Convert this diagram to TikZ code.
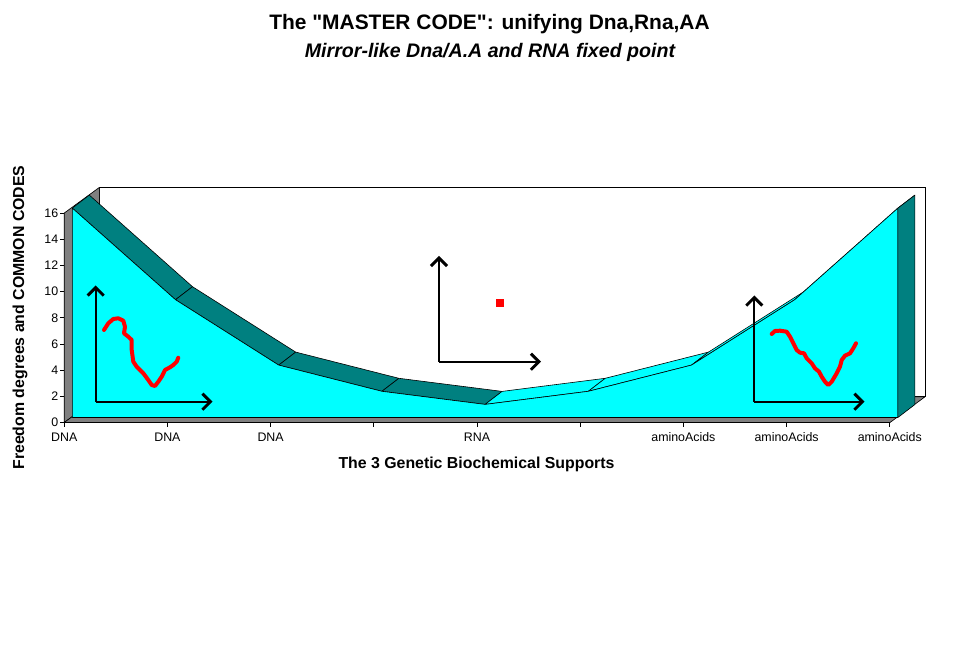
\documentclass[tikz,border=0pt]{standalone}
\usepackage{fontspec}
\setmainfont{Liberation Sans}
\newfontfamily\plainsans{Liberation Sans}
\usetikzlibrary{arrows.meta}
\definecolor{xlteal}{RGB}{0,128,128}
\definecolor{xlcyan}{RGB}{0,255,255}
\definecolor{xlgray}{RGB}{128,128,128}
\definecolor{xlred}{RGB}{255,0,0}
\begin{document}
\begin{tikzpicture}[x=0.75pt,y=-0.75pt,
  wallface/.style={fill=xlgray,draw=black,line width=0.5pt,line join=round},
  backwall/.style={fill=white,draw=black,line width=0.5pt},
  downface/.style={fill=xlteal,draw=black,line width=0.45pt,line join=round},
  upface/.style={fill=xlcyan,draw=black,line width=0.45pt,line join=round},
  frontface/.style={fill=xlcyan,draw=black,line width=0.45pt,line join=round},
  tickline/.style={draw=black,line width=0.5pt},
  ticklabel/.style={font=\fontsize{9.3pt}{10pt}\selectfont,inner sep=0pt},
  axtitle/.style={font=\fontsize{11.9pt}{13pt}\selectfont\bfseries,inner sep=0pt},
  blackarrow/.style={draw=black,line width=1.6pt,-{Straight Barb[length=6pt,width=12pt,line width=2.2pt]}},
  scribble/.style={draw=xlred,line width=3pt,line cap=round,line join=round},
  redsquare/.style={fill=xlred,draw=none,minimum size=6pt,inner sep=0pt}]
\useasboundingbox (0,0) rectangle (976,655);

% chart box corners
\coordinate (A0) at (64.2,422.5);
\coordinate (A16) at (64.2,213.1);
\coordinate (W0) at (99.4,396.8);
\coordinate (W16) at (99.4,187.4);
\coordinate (WR16) at (925,187.4);
\coordinate (WR0) at (925,396.8);
\coordinate (FR) at (890,422.5);

% series front points
\coordinate (f0) at (72.3,208.1);
\coordinate (f1) at (175.5,299.7);
\coordinate (f2) at (278.7,365.1);
\coordinate (f3) at (381.9,391.3);
\coordinate (f4) at (485.1,404.4);
\coordinate (f5) at (588.3,391.3);
\coordinate (f6) at (691.5,365.1);
\coordinate (f7) at (794.7,299.7);
\coordinate (f8) at (897.9,208.1);
% series back points
\coordinate (b0) at (89.3,195.1);
\coordinate (b1) at (192.5,286.7);
\coordinate (b2) at (295.7,352.1);
\coordinate (b3) at (398.9,378.3);
\coordinate (b4) at (502.1,391.4);
\coordinate (b5) at (605.3,378.3);
\coordinate (b6) at (708.5,352.1);
\coordinate (b7) at (811.7,286.7);
\coordinate (b8) at (914.9,195.1);
\coordinate (fl) at (72.3,417.5);
\coordinate (fr) at (897.9,417.5);
\coordinate (br) at (914.9,404.5);

% walls and floor
\path[backwall] (W0) -- (W16) -- (WR16) -- (WR0) -- cycle;
\path[wallface] (A0) -- (A16) -- (W16) -- (W0) -- cycle;
\path[wallface] (A0) -- (FR) -- (WR0) -- (W0) -- cycle;

% top surface of the area series
\path[downface] (f0) -- (f1) -- (b1) -- (b0) -- cycle;
\path[downface] (f1) -- (f2) -- (b2) -- (b1) -- cycle;
\path[downface] (f2) -- (f3) -- (b3) -- (b2) -- cycle;
\path[downface] (f3) -- (f4) -- (b4) -- (b3) -- cycle;
\path[upface] (f4) -- (f5) -- (b5) -- (b4) -- cycle;
\path[upface] (f5) -- (f6) -- (b6) -- (b5) -- cycle;
\path[upface] (f6) -- (f7) -- (b7) -- (b6) -- cycle;
\path[upface] (f7) -- (f8) -- (b8) -- (b7) -- cycle;
% front face
\path[frontface] (fl) -- (f0) -- (f1) -- (f2) -- (f3) -- (f4) -- (f5) -- (f6) -- (f7) -- (f8) -- (fr) -- cycle;
% right end face
\path[downface] (fr) -- (f8) -- (b8) -- (br) -- cycle;

% value axis ticks and labels
\foreach \v in {0,2,...,16}{
  \pgfmathsetmacro{\yy}{422.5-13.09*\v}
  \draw[tickline] (60,\yy) -- (64.2,\yy);
  \node[ticklabel,anchor=east] (vl\v) at (58.5,\yy) {\v};
}
% category axis
\draw[tickline] (A0) -- (FR);
\foreach \i/\t in {0/DNA,1/DNA,2/DNA,3/,4/RNA,5/,6/aminoAcids,7/aminoAcids,8/aminoAcids}{
  \pgfmathsetmacro{\xx}{64.2+103.2*\i}
  \draw[tickline] (\xx,422.5) -- (\xx,427);
  \node[ticklabel,anchor=base] (cl\i) at (\xx,441.5) {\t};
}

% titles
\node[font=\plainsans\fontsize{15.7pt}{17pt}\selectfont\bfseries,anchor=base,inner sep=0pt] (title) at (489.5,30) {The "MASTER CODE": unifying Dna,Rna,AA};
\node[font=\fontsize{14.7pt}{16pt}\selectfont\bfseries\itshape,anchor=base,inner sep=0pt] (subtitle) at (490,58) {Mirror-like Dna/A.A and RNA fixed point};
\node[axtitle,anchor=base] (xtitle) at (476.5,469) {The 3 Genetic Biochemical Supports};
\node[axtitle,rotate=90] (ytitle) at (20,317.5) {Freedom degrees and COMMON CODES};

% left coordinate axes
\coordinate (lo) at (95.7,401.7);
\coordinate (ly) at (95.7,285.5);
\coordinate (lx) at (212.5,401.7);
\draw[blackarrow] (lo) -- (ly);
\draw[blackarrow] (lo) -- (lx);
% middle coordinate axes
\coordinate (mo) at (439,361.7);
\coordinate (my) at (439,256);
\coordinate (mx) at (541,361.7);
\draw[blackarrow] (mo) -- (my);
\draw[blackarrow] (mo) -- (mx);
% right coordinate axes
\coordinate (ro) at (754.3,401.7);
\coordinate (ry) at (754.3,295.5);
\coordinate (rx) at (864.5,401.7);
\draw[blackarrow] (ro) -- (ry);
\draw[blackarrow] (ro) -- (rx);

% red square
\node[redsquare] (rsq) at (500,302.7) {};

% scribbles
\draw[scribble] (104,330) -- (108.3,323.3) -- (113.3,319) -- (118.3,318.3) -- (123.3,320.7) -- (125,326.7) -- (124,333.3) -- (128.3,336.7) -- (131.7,340) -- (131.7,350) -- (133.3,361.7) -- (136.7,366.7) -- (143.3,373.3) -- (148.3,380) -- (151.7,385) -- (155,386) -- (158.3,381.7) -- (161.7,376.7) -- (165,370) -- (170,367.3) -- (173.3,365) -- (176.7,361.7) -- (178.3,357.7);
\draw[scribble] (771.7,334) -- (775,331) -- (780,330.7) -- (786.7,331.7) -- (790,336.7) -- (793.3,343.3) -- (796.7,350) -- (800,352.7) -- (804,353.3) -- (806.7,358.3) -- (811.7,363.3) -- (815,368.3) -- (819,371.7) -- (821.7,376.7) -- (825,381.7) -- (828.3,385) -- (831.7,381.7) -- (836.7,373.3) -- (840,366.7) -- (841.7,360) -- (845,355.7) -- (850,353.3) -- (853.3,348.3) -- (856,343.3);
\end{tikzpicture}
\end{document}
